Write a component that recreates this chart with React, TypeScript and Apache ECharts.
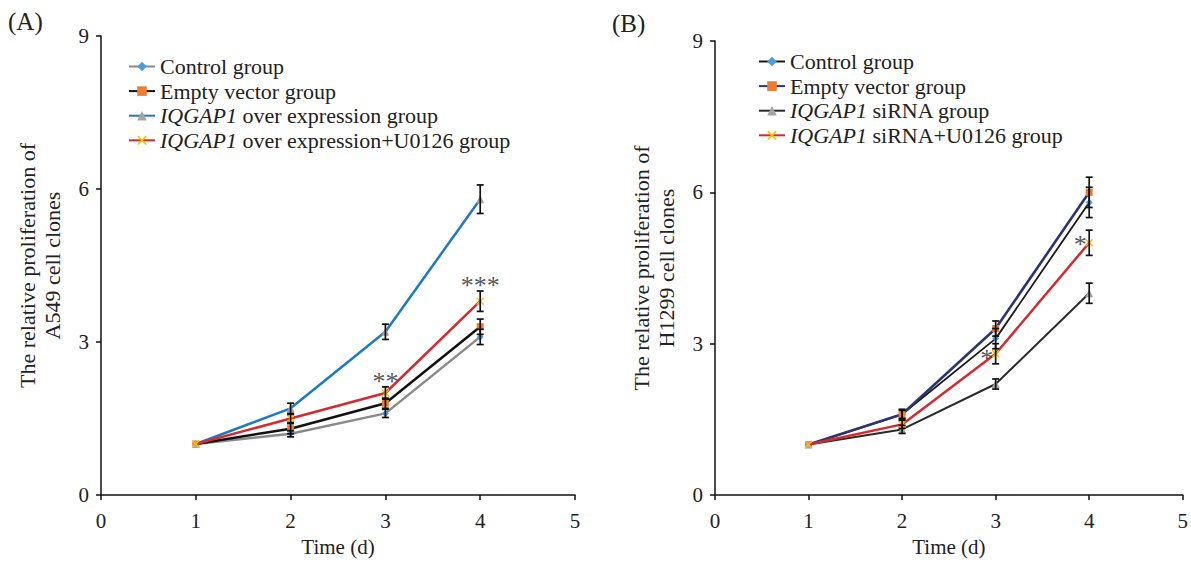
import React, { useEffect, useRef } from "react";
import * as echarts from "echarts";

// ---------- data ----------
const days = [1, 2, 3, 4];
const xMin = 0, xMax = 5, xStep = 1;
const yMin = 0, yMax = 9, yStep = 3;

// Panel A (A549)
const namesA = [
  "Control group",
  "Empty vector group",
  "IQGAP1 over expression group",
  "IQGAP1 over expression+U0126 group",
];
const controlA = [1.0, 1.2, 1.6, 3.1];
const emptyA = [1.0, 1.3, 1.8, 3.3];
const overA = [1.0, 1.7, 3.2, 5.8];
const u0126A = [1.0, 1.5, 2.0, 3.8];
const errControlA = [0, 0.06, 0.08, 0.15];
const errEmptyA = [0, 0.1, 0.1, 0.15];
const errOverA = [0, 0.1, 0.15, 0.28];
const errU0126A = [0, 0.08, 0.12, 0.2];
const starsA = [
  { x: 3, y: 2.22, text: "**" },
  { x: 4, y: 4.1, text: "***" },
];

// Panel B (H1299)
const namesB = [
  "Control group",
  "Empty vector group",
  "IQGAP1 siRNA group",
  "IQGAP1 siRNA+U0126 group",
];
const controlB = [1.0, 1.6, 3.1, 5.8];
const emptyB = [1.0, 1.6, 3.3, 6.0];
const sirnaB = [1.0, 1.3, 2.2, 4.0];
const u0126B = [1.0, 1.4, 2.8, 5.0];
const errControlB = [0, 0.08, 0.2, 0.3];
const errEmptyB = [0, 0.1, 0.15, 0.3];
const errSirnaB = [0, 0.08, 0.1, 0.2];
const errU0126B = [0, 0.08, 0.2, 0.25];
const starsB = [
  { x: 3, y: 2.7, text: "*" },
  { x: 4, y: 4.97, text: "*" },
];

// ---------- styles ----------
const FONT = "'Liberation Serif', 'Times New Roman', serif";
const TXT = "#222";
const XSYM =
  "path://M0,1.2L1.2,0L5,3.8L8.8,0L10,1.2L6.2,5L10,8.8L8.8,10L5,6.2L1.2,10L0,8.8L3.8,5Z";

const markerStyles = [
  { symbol: "diamond", color: "#4a9ee0", size: 7 },
  { symbol: "rect", color: "#ed7d31", size: 7 },
  { symbol: "triangle", color: "#a5a5a5", size: 8 },
  { symbol: XSYM, color: "#ffc000", size: 8 },
];
const lineColorsA = ["#8a8a8a", "#111111", "#1f7ac4", "#d42a30"];
const lineWidthsA = [2.5, 2.5, 2.5, 2.5];
const lineColorsB = ["#1a1a1a", "#2b3670", "#2a2a2a", "#d42a30"];
const lineWidthsB = [1.8, 2.6, 2.0, 2.5];

function errRender(params: any, api: any) {
  const x = api.value(0);
  const lo = api.value(1);
  const hi = api.value(2);
  if (hi - lo <= 0) return null;
  const p1 = api.coord([x, lo]);
  const p2 = api.coord([x, hi]);
  const w = 3.5;
  const st = { stroke: "#111", lineWidth: 1.7 };
  return {
    type: "group",
    children: [
      { type: "line", shape: { x1: p1[0], y1: p1[1], x2: p2[0], y2: p2[1] }, style: st },
      { type: "line", shape: { x1: p1[0] - w, y1: p1[1], x2: p1[0] + w, y2: p1[1] }, style: st },
      { type: "line", shape: { x1: p2[0] - w, y1: p2[1], x2: p2[0] + w, y2: p2[1] }, style: st },
    ],
  };
}

function buildPanel(
  prefix: string,
  names: string[],
  values: number[][],
  errs: number[][],
  colors: string[],
  widths: number[],
  stars: { x: number; y: number; text: string }[],
  starOffsetX: number,
  idx: number
) {
  const series: any[] = [];
  values.forEach((vals, i) => {
    series.push({
      type: "custom",
      xAxisIndex: idx,
      yAxisIndex: idx,
      renderItem: errRender,
      silent: true,
      z: 3,
      data: days.map((d, k) => [d, vals[k] - errs[i][k], vals[k] + errs[i][k]]),
    });
  });
  values.forEach((vals, i) => {
    const m = markerStyles[i];
    series.push({
      type: "line",
      name: prefix + names[i],
      xAxisIndex: idx,
      yAxisIndex: idx,
      data: days.map((d, k) => [d, vals[k]]),
      symbol: m.symbol,
      symbolSize: m.size,
      showSymbol: true,
      z: 2 + i * 0.1,
      itemStyle: { color: m.color, borderWidth: 0 },
      lineStyle: { color: colors[i], width: widths[i] },
      emphasis: { disabled: true },
    });
  });
  series.push({
    type: "scatter",
    xAxisIndex: idx,
    yAxisIndex: idx,
    symbolSize: 1,
    itemStyle: { color: "rgba(0,0,0,0)" },
    silent: true,
    z: 5,
    data: stars.map((s) => ({ value: [s.x, s.y], name: s.text })),
    label: {
      show: true,
      formatter: "{b}",
      position: "inside",
      offset: [starOffsetX, 0],
      fontSize: 26,
      color: "#2a2a2a",
      fontFamily: FONT,
      letterSpacing: 1,
    },
  });
  return series;
}

const axisLine = { show: true, lineStyle: { color: "#111", width: 1.5 } };
const axisTick = { show: true, length: 5, lineStyle: { color: "#111", width: 1.5 } };

function xAxis(idx: number) {
  return {
    type: "value",
    gridIndex: idx,
    min: xMin,
    max: xMax,
    interval: xStep,
    name: "Time (d)",
    nameLocation: "middle",
    nameGap: 41,
    nameTextStyle: { fontFamily: FONT, fontSize: 21, color: TXT },
    axisLine,
    axisTick: { ...axisTick, inside: false },
    splitLine: { show: false },
    axisLabel: { fontFamily: FONT, fontSize: 21, color: TXT, margin: 15 },
  };
}

function yAxis(idx: number, title: string) {
  return {
    type: "value",
    gridIndex: idx,
    min: yMin,
    max: yMax,
    interval: yStep,
    name: title,
    nameLocation: "middle",
    nameGap: 36,
    nameRotate: 90,
    nameTextStyle: { fontFamily: FONT, fontSize: 22, color: TXT, lineHeight: 25 },
    axisLine,
    axisTick,
    splitLine: { show: false },
    axisLabel: { fontFamily: FONT, fontSize: 21, color: TXT, margin: 12 },
  };
}

function legend(prefix: string, names: string[], left: number, top: number) {
  return {
    orient: "vertical",
    left,
    top,
    itemWidth: 26,
    itemHeight: 12,
    itemGap: 2.6,
    padding: 0,
    data: names.map((n) => prefix + n),
    selectedMode: false,
    formatter: (n: string) => n.slice(prefix.length).replace("IQGAP1", "{i|IQGAP1}"),
    textStyle: {
      fontFamily: FONT,
      fontSize: 22,
      color: TXT,
      lineHeight: 22,
      rich: {
        i: { fontFamily: FONT, fontSize: 22, fontStyle: "italic", color: TXT, lineHeight: 22 },
      },
    },
  };
}

export default function App() {
  const ref = useRef<HTMLDivElement>(null);
  useEffect(() => {
    if (!ref.current) return;
    const chart = echarts.init(ref.current, undefined, { renderer: "svg" });
    const option: any = {
      animation: false,
      backgroundColor: "#ffffff",
      grid: [
        { left: 101, top: 36, width: 474, height: 460 },
        { left: 715, top: 41, width: 470, height: 456 },
      ],
      xAxis: [xAxis(0), xAxis(1)],
      yAxis: [
        yAxis(0, "The relative proliferation of\nA549 cell clones"),
        yAxis(1, "The relative proliferation of\nH1299 cell clones"),
      ],
      legend: [legend("A|", namesA, 128, 55.5), legend("B|", namesB, 758, 50.5)],
      graphic: [
        { type: "text", left: 8, top: 9, style: { text: "(A)", font: `25px ${FONT}`, fill: TXT } },
        { type: "text", left: 612, top: 11, style: { text: "(B)", font: `25px ${FONT}`, fill: TXT } },
      ],
      series: [
        ...buildPanel(
          "A|",
          namesA,
          [controlA, emptyA, overA, u0126A],
          [errControlA, errEmptyA, errOverA, errU0126A],
          lineColorsA,
          lineWidthsA,
          starsA,
          0,
          0
        ),
        ...buildPanel(
          "B|",
          namesB,
          [controlB, emptyB, sirnaB, u0126B],
          [errControlB, errEmptyB, errSirnaB, errU0126B],
          lineColorsB,
          lineWidthsB,
          starsB,
          -9,
          1
        ),
      ],
    };
    chart.setOption(option);
    return () => chart.dispose();
  }, []);
  return (
    <div
      ref={ref}
      style={{ position: "fixed", left: 0, top: 0, width: 1191, height: 562, background: "#fff" }}
    />
  );
}
